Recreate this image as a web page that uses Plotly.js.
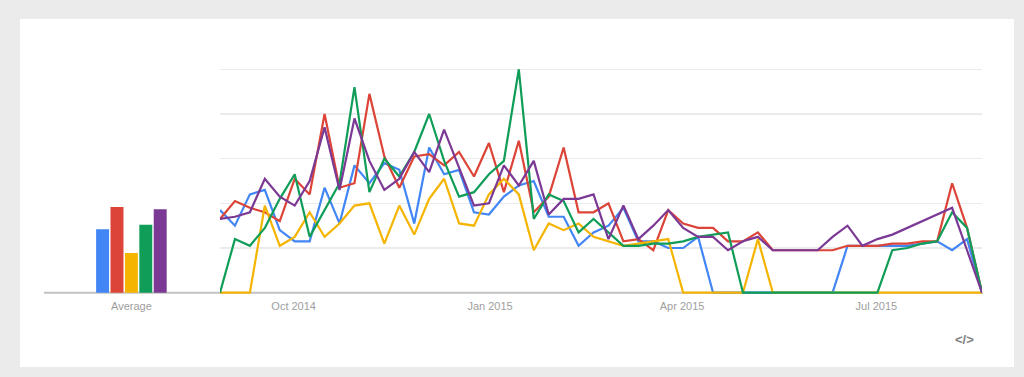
<!DOCTYPE html>
<html>
<head>
<meta charset="utf-8">
<script src="https://cdn.plot.ly/plotly-3.0.1.min.js"></script>
<style>
  html, body { margin: 0; padding: 0; background: #ebebeb; }
  #chart { width: 1024px; height: 377px; }
</style>
</head>
<body>
<div id="chart"></div>
<script>
// Week start dates (Sundays)
const weeks = [
  '2014-08-24','2014-08-31','2014-09-07','2014-09-14','2014-09-21','2014-09-28',
  '2014-10-05','2014-10-12','2014-10-19','2014-10-26','2014-11-02','2014-11-09',
  '2014-11-16','2014-11-23','2014-11-30','2014-12-07','2014-12-14','2014-12-21',
  '2014-12-28','2015-01-04','2015-01-11','2015-01-18','2015-01-25','2015-02-01',
  '2015-02-08','2015-02-15','2015-02-22','2015-03-01','2015-03-08','2015-03-15',
  '2015-03-22','2015-03-29','2015-04-05','2015-04-12','2015-04-19','2015-04-26',
  '2015-05-03','2015-05-10','2015-05-17','2015-05-24','2015-05-31','2015-06-07',
  '2015-06-14','2015-06-21','2015-06-28','2015-07-05','2015-07-12','2015-07-19',
  '2015-07-26','2015-08-02','2015-08-09','2015-08-16'
];

const blueVals = [37,30,44,46,28,23,23,47,31,57,49,58,55,31,65,53,55,36,35,43,48,50,34,34,21,27,30,38,23,23,20,20,25,0,0,0,0,0,0,0,0,0,21,21,21,21,21,22,23,19,24,0];
const redVals = [33,41,38,36,32,51,44,80,47,49,89,61,47,61,62,57,63,52,67,45,68,36,43,65,36,36,40,23,24,19,37,31,29,29,23,23,27,19,19,19,19,19,21,21,21,22,22,23,23,49,29,0];
const yellowVals = [0,0,0,39,21,25,36,25,31,39,40,22,39,26,42,51,31,30,44,51,44,19,31,28,31,25,23,21,22,23,24,0,0,0,0,0,24,0,0,0,0,0,0,0,0,0,0,0,0,0,0,0];
const greenVals = [0,24,21,29,42,53,25,37,49,92,45,60,52,63,80,59,43,45,53,59,100,33,44,41,27,33,27,21,21,22,22,23,25,26,27,0,0,0,0,0,0,0,0,0,0,19,20,22,23,36,29,0];
const purpleVals = [33,34,36,51,43,39,50,74,46,78,59,46,51,63,54,73,56,39,40,57,48,59,35,42,42,44,24,39,24,30,37,29,25,25,19,23,25,19,19,19,19,25,30,21,24,26,29,32,35,38,19,0];

const seriesNames = ['Term 1','Term 2','Term 3','Term 4','Term 5'];
const seriesColors = ['#4285f4','#db4437','#f4b400','#0f9d58','#7b3894'];
const averages = [28.4, 38.4, 17.8, 30.4, 37.3];
const avgLabel = 'Average';

const tickDates = ['2014-10-01','2015-01-01','2015-04-01','2015-07-01'];
const tickLabels = ['Oct 2014','Jan 2015','Apr 2015','Jul 2015'];

const W = 1024, H = 377;
const px = v => v / W;
const py = v => 1 - v / H;

const allVals = [blueVals, redVals, yellowVals, greenVals, purpleVals];
const traces = allVals.map((vals, k) => ({
  type: 'scatter',
  mode: 'lines',
  x: weeks,
  y: vals,
  xperiod: 7 * 24 * 3600 * 1000,
  xperiod0: weeks[0],
  xperiodalignment: 'middle',
  name: seriesNames[k],
  line: { color: seriesColors[k], width: 2.2, shape: 'linear' },
  xaxis: 'x', yaxis: 'y',
  hoverinfo: 'skip'
}));

traces.unshift({
  type: 'bar',
  x: [0,1,2,3,4],
  y: averages,
  marker: { color: seriesColors, line: { width: 0 } },
  xaxis: 'x2', yaxis: 'y2',
  hoverinfo: 'skip',
  showlegend: false
});

const font = 'Arial, "Liberation Sans", sans-serif';
const yDomain = [py(296.05), py(65.95)];
const yRange = [-1.5, 101.5];

const layout = {
  width: W, height: H,
  margin: { l: 0, r: 0, t: 0, b: 0, pad: 0 },
  paper_bgcolor: '#ebebeb',
  plot_bgcolor: 'rgba(0,0,0,0)',
  showlegend: false,
  bargap: 0.1,
  font: { family: font, size: 11, color: '#9e9e9e' },
  xaxis: {
    type: 'date',
    domain: [px(220), px(982)],
    range: ['2014-08-27 12:00', '2015-08-19 12:00'],
    tickvals: tickDates,
    ticktext: tickLabels,
    showgrid: false, zeroline: false, showline: false, ticks: '',
    ticklabelstandoff: 2,
    tickfont: { family: font, size: 11, color: '#9e9e9e' },
    anchor: 'y', fixedrange: true
  },
  yaxis: {
    domain: yDomain,
    range: yRange,
    tickvals: [20, 40, 60, 80, 100],
    showticklabels: false,
    showgrid: true, gridcolor: '#ebebeb', gridwidth: 1.2,
    zeroline: false, showline: false, ticks: '',
    anchor: 'x', fixedrange: true
  },
  xaxis2: {
    domain: [px(95.4), px(167.4)],
    range: [-0.5, 4.5],
    tickvals: [2],
    ticktext: [avgLabel],
    showgrid: false, zeroline: false, showline: false, ticks: '',
    ticklabelstandoff: 2,
    tickfont: { family: font, size: 11, color: '#9e9e9e' },
    anchor: 'y2', fixedrange: true
  },
  yaxis2: {
    domain: yDomain,
    range: yRange,
    showticklabels: false, showgrid: false, zeroline: false, showline: false,
    anchor: 'x2', fixedrange: true
  },
  shapes: [
    { type: 'rect', xref: 'paper', yref: 'paper', layer: 'below',
      x0: px(20), x1: px(1014), y0: py(367), y1: py(19),
      fillcolor: '#ffffff', line: { width: 0 } },
    { type: 'line', xref: 'paper', yref: 'y', layer: 'below',
      x0: px(44), x1: px(983), y0: 0, y1: 0,
      line: { color: '#c2c2c2', width: 2 } }
  ],
  annotations: [
    { xref: 'paper', yref: 'paper', x: px(964), y: py(339),
      text: '<b>&lt;/&gt;</b>', showarrow: false,
      font: { family: font, size: 13, color: '#808080' },
      xanchor: 'center', yanchor: 'middle' }
  ]
};

Plotly.newPlot('chart', traces, layout, { displayModeBar: false, staticPlot: true });
</script>
</body>
</html>
